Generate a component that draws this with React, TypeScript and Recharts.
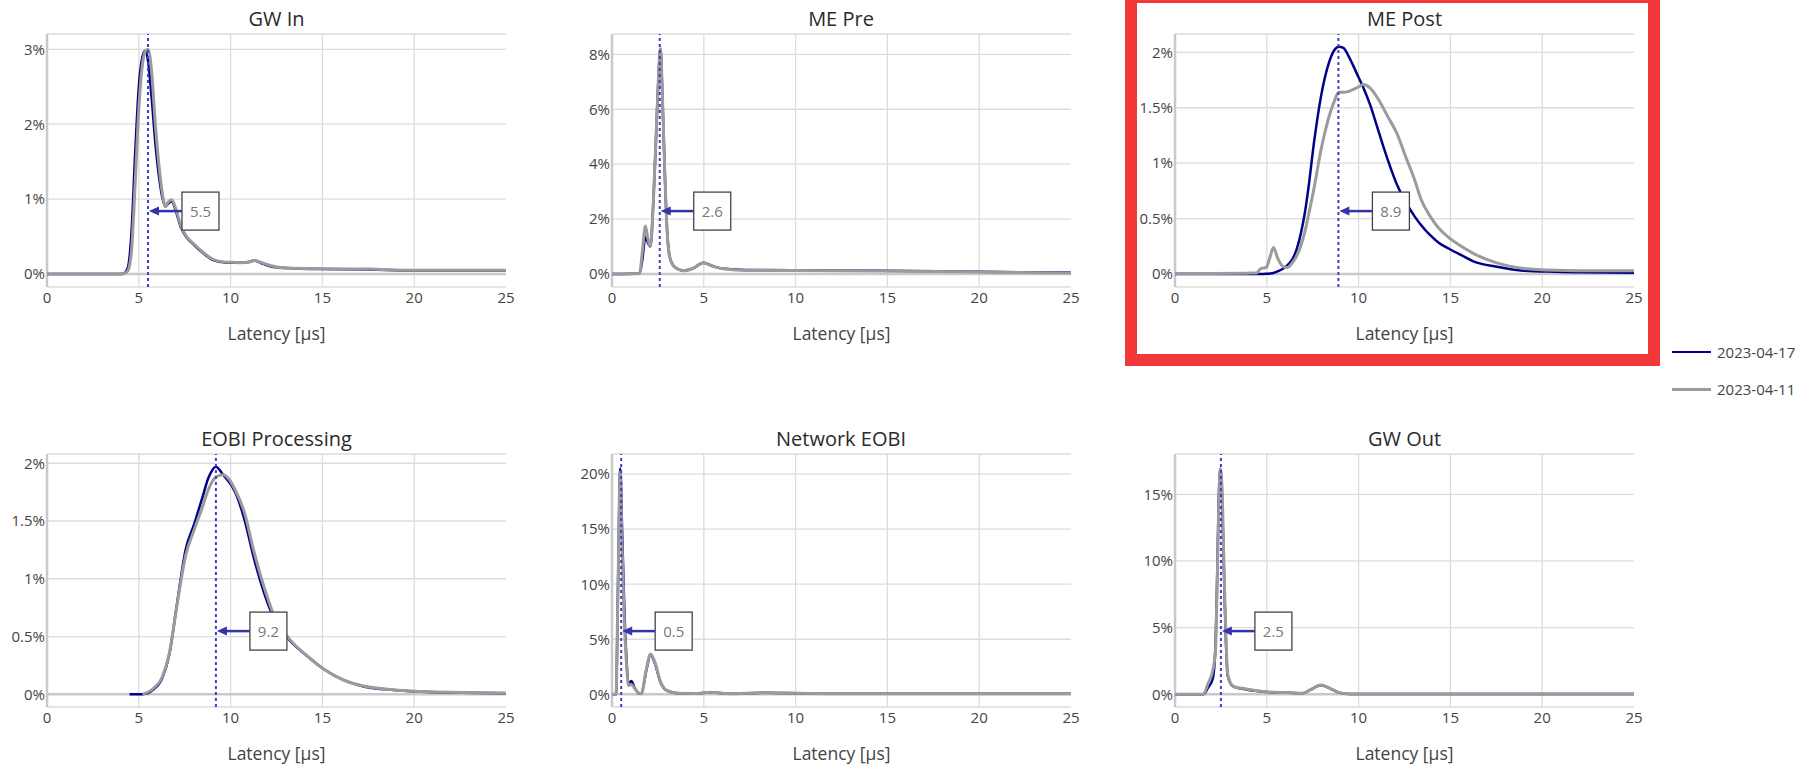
import React from "react";
import {
  LineChart,
  Line,
  XAxis,
  YAxis,
  CartesianGrid,
  ReferenceLine,
} from "recharts";

const latencyTicks = [0, 5, 10, 15, 20, 25];
const seriesNames = ["2023-04-17", "2023-04-11"];

// GW In
const gwInX = [0, 4, 4.2, 4.4, 4.6, 4.8, 5.0, 5.2, 5.35, 5.5, 5.7, 5.9, 6.1, 6.3, 6.45, 6.6, 6.8, 7.0, 7.3, 7.6, 8.0, 8.5, 9.0, 9.5, 10, 10.5, 11, 11.3, 11.7, 12.2, 13, 15, 17.5, 20, 22.5, 25];
const gwInA = [0, 0, 0.01, 0.08, 0.55, 1.6, 2.5, 2.9, 2.98, 2.85, 2.35, 1.75, 1.3, 1.0, 0.9, 0.94, 0.97, 0.85, 0.62, 0.49, 0.39, 0.28, 0.19, 0.16, 0.15, 0.15, 0.16, 0.18, 0.14, 0.1, 0.08, 0.065, 0.06, 0.045, 0.045, 0.045];
const gwInB = [0, 0, 0.005, 0.04, 0.3, 1.2, 2.2, 2.8, 2.97, 3.0, 2.7, 2.0, 1.45, 1.05, 0.9, 0.96, 0.99, 0.88, 0.64, 0.5, 0.4, 0.29, 0.2, 0.165, 0.155, 0.15, 0.16, 0.18, 0.15, 0.11, 0.08, 0.07, 0.065, 0.05, 0.05, 0.05];

// ME Pre
const mePreX = [0, 1.5, 1.65, 1.82, 1.95, 2.09, 2.25, 2.4, 2.52, 2.64, 2.75, 2.88, 3.0, 3.15, 3.35, 3.6, 3.9, 4.4, 4.98, 5.57, 6.15, 7.3, 9.86, 14.7, 20, 25];
const mePreA = [0, 0.02, 0.5, 1.36, 1.15, 1.0, 2.6, 5.0, 7.0, 8.2, 6.4, 3.6, 1.6, 0.6, 0.3, 0.18, 0.12, 0.2, 0.41, 0.27, 0.19, 0.15, 0.14, 0.12, 0.08, 0.05];
const mePreB = [0, 0.02, 0.8, 1.75, 1.3, 1.0, 2.6, 5.0, 7.0, 8.2, 6.4, 3.6, 1.6, 0.6, 0.3, 0.18, 0.12, 0.2, 0.4, 0.26, 0.18, 0.13, 0.13, 0.11, 0.07, 0.04];

// ME Post
const mePostX = [0, 2, 4, 4.44, 4.68, 4.97, 5.17, 5.36, 5.6, 5.9, 6.13, 6.38, 6.62, 6.86, 7.1, 7.23, 7.59, 7.95, 8.32, 8.68, 8.92, 9.17, 9.41, 9.65, 9.9, 10.26, 10.62, 11.1, 11.59, 12.08, 12.56, 13.05, 13.41, 13.9, 14.38, 14.9, 15.59, 16.32, 17.53, 18.99, 20.68, 22, 25];
const mePostA = [0, 0, 0, 0, 0, 0.002, 0.005, 0.01, 0.025, 0.05, 0.08, 0.13, 0.22, 0.37, 0.58, 0.73, 1.21, 1.6, 1.87, 2.02, 2.05, 2.04, 1.98, 1.9, 1.81, 1.68, 1.53, 1.28, 1.03, 0.81, 0.65, 0.52, 0.44, 0.35, 0.28, 0.23, 0.17, 0.11, 0.066, 0.03, 0.02, 0.015, 0.012];
const mePostB = [0.005, 0.005, 0.008, 0.01, 0.05, 0.06, 0.15, 0.24, 0.14, 0.065, 0.06, 0.1, 0.16, 0.26, 0.4, 0.5, 0.79, 1.12, 1.38, 1.56, 1.64, 1.64, 1.645, 1.66, 1.68, 1.71, 1.68, 1.57, 1.42, 1.27, 1.06, 0.85, 0.67, 0.52, 0.41, 0.33, 0.25, 0.18, 0.1, 0.05, 0.033, 0.03, 0.03];

// EOBI Processing
const eobiX = [4.5, 5.2, 5.79, 6.28, 6.67, 7.06, 7.55, 8.03, 8.42, 8.81, 9.2, 9.59, 10.28, 10.76, 11.25, 11.84, 12.42, 13.2, 14.18, 15.15, 16.13, 17.3, 18.86, 20.8, 25];
const eobiA = [0, 0, 0.04, 0.14, 0.35, 0.76, 1.25, 1.48, 1.68, 1.88, 1.97, 1.9, 1.74, 1.51, 1.19, 0.87, 0.64, 0.47, 0.33, 0.21, 0.124, 0.066, 0.038, 0.02, 0.01];
const eobiB = [null, 0, 0.05, 0.15, 0.36, 0.75, 1.2, 1.43, 1.6, 1.78, 1.88, 1.9, 1.76, 1.57, 1.25, 0.92, 0.66, 0.48, 0.33, 0.21, 0.125, 0.07, 0.04, 0.022, 0.012];

// Network EOBI
const netX = [0, 0.22, 0.32, 0.45, 0.55, 0.65, 0.78, 0.9, 1.05, 1.25, 1.45, 1.6, 1.86, 2.1, 2.34, 2.64, 3.0, 3.6, 4.5, 5.37, 6.35, 8.3, 12, 16, 20, 25];
const netA = [0, 0, 9, 20.5, 15, 9, 3.5, 1.0, 1.2, 0.55, 0.1, 0.05, 2.1, 3.6, 2.8, 1.1, 0.33, 0.09, 0.08, 0.18, 0.06, 0.15, 0.05, 0.05, 0.05, 0.05];
const netB = [0, 0, 9, 20.2, 13.5, 7.5, 3, 0.8, 0.9, 0.5, 0.1, 0.05, 2.2, 3.66, 2.9, 1.15, 0.33, 0.09, 0.08, 0.18, 0.06, 0.15, 0.06, 0.06, 0.06, 0.06];

// GW Out
const gwOutX = [0, 1.54, 1.8, 2.06, 2.2, 2.3, 2.38, 2.47, 2.56, 2.66, 2.76, 2.87, 3.18, 3.65, 4.46, 5.02, 6.19, 6.97, 7.36, 7.95, 8.44, 8.93, 9.51, 12, 16, 20, 25];
const gwOutA = [0, 0, 0.5, 1.2, 3.5, 9, 14.5, 16.9, 15, 9.5, 4.5, 1.4, 0.57, 0.42, 0.25, 0.17, 0.12, 0.08, 0.33, 0.68, 0.45, 0.13, 0.03, 0.02, 0.02, 0.02, 0.02];
const gwOutB = [0, 0, 0.8, 1.8, 3.2, 8.5, 14, 16.9, 15.5, 10, 5, 1.5, 0.6, 0.45, 0.27, 0.18, 0.12, 0.08, 0.33, 0.7, 0.45, 0.13, 0.03, 0.02, 0.02, 0.02, 0.02];

const BLUE = "#00008b";
const GREY = "#9b9b9b";
const GRID = "#dcdcdc";
const ZERO = "#c9c9c9";

const colLeft = [47, 611.5, 1175];
const rowTop = [34, 454];
const PLOT_W = 459;
const PLOT_H = 253;
const Y_W = 50;
const M_TOP = 10;
const M_RIGHT = 10;
const X_H = 60;

const toRows = (xs: number[], a: (number | null)[], b: (number | null)[]) =>
  xs.map((x, i) => ({ x, a: a[i], b: b[i] }));

const panels = [
  { title: "GW In", data: toRows(gwInX, gwInA, gwInB), yTicks: [0, 1, 2, 3], yDomain: [-0.174, 3.204], median: 5.5, col: 0, row: 0 },
  { title: "ME Pre", data: toRows(mePreX, mePreA, mePreB), yTicks: [0, 2, 4, 6, 8], yDomain: [-0.473, 8.74], median: 2.6, col: 1, row: 0 },
  { title: "ME Post", data: toRows(mePostX, mePostA, mePostB), yTicks: [0, 0.5, 1, 1.5, 2], yDomain: [-0.117, 2.165], median: 8.9, col: 2, row: 0 },
  { title: "EOBI Processing", data: toRows(eobiX, eobiA, eobiB), yTicks: [0, 0.5, 1, 1.5, 2], yDomain: [-0.11, 2.08], median: 9.2, col: 0, row: 1 },
  { title: "Network EOBI", data: toRows(netX, netA, netB), yTicks: [0, 5, 10, 15, 20], yDomain: [-1.15, 21.82], median: 0.5, col: 1, row: 1 },
  { title: "GW Out", data: toRows(gwOutX, gwOutA, gwOutB), yTicks: [0, 5, 10, 15], yDomain: [-0.95, 18.02], median: 2.5, col: 2, row: 1 },
];

function MedianMarker(props: any) {
  const { viewBox, text } = props;
  if (!viewBox) return null;
  const x = viewBox.x;
  const y = viewBox.y + viewBox.height * 0.7;
  return (
    <g>
      <line x1={x + 10} y1={y} x2={x + 34} y2={y} stroke="#3434a8" strokeWidth={2.5} />
      <path d={`M${x + 1},${y} L${x + 11},${y - 4.5} L${x + 11},${y + 4.5} Z`} fill="#3434a8" />
      <rect x={x + 34} y={y - 19} width={37} height={38} fill="#fff" stroke="#444" strokeWidth={1.3} />
      <text x={x + 52.5} y={y} textAnchor="middle" dominantBaseline="central" fontSize={15} fill="#777">
        {text}
      </text>
    </g>
  );
}

function Panel({ p }: { p: (typeof panels)[number] }) {
  const left = colLeft[p.col];
  const top = rowTop[p.row];
  return (
    <>
      <div
        style={{
          position: "absolute",
          left,
          width: PLOT_W,
          top: top - 27,
          lineHeight: "24px",
          textAlign: "center",
          fontSize: 20,
          color: "#2a2a2a",
        }}
      >
        {p.title}
      </div>
      <div style={{ position: "absolute", left: left - Y_W, top: top - M_TOP }}>
        <LineChart
          width={Y_W + PLOT_W + M_RIGHT}
          height={M_TOP + PLOT_H + X_H}
          data={p.data}
          margin={{ top: M_TOP, right: M_RIGHT, bottom: 0, left: 0 }}
        >
          <CartesianGrid vertical={false} stroke={GRID} strokeWidth={1.3} />
          <XAxis
            type="number"
            dataKey="x"
            domain={[0, 25]}
            ticks={latencyTicks}
            interval={0}
            allowDataOverflow
            axisLine={false}
            tickLine={false}
            tickSize={0}
            tickMargin={5}
            height={X_H}
            tick={{ fontSize: 15, fill: "#444" }}
            label={{ value: "Latency [µs]", position: "insideBottom", offset: 7.5, fontSize: 17.5, fill: "#444" }}
          />
          <YAxis
            type="number"
            domain={p.yDomain}
            ticks={p.yTicks}
            interval={0}
            allowDataOverflow
            axisLine={false}
            tickLine={false}
            tickSize={0}
            tickMargin={2}
            width={Y_W}
            tick={{ fontSize: 15, fill: "#444" }}
            tickFormatter={(v: number) => `${v}%`}
          />
          {[5, 10, 15, 20].map((g) => (
            <ReferenceLine key={g} x={g} stroke={GRID} strokeWidth={1.3} />
          ))}
          <ReferenceLine y={0} stroke={ZERO} strokeWidth={2.5} />
          <ReferenceLine x={0} stroke={ZERO} strokeWidth={2.5} />
          <Line
            type="monotone"
            dataKey="a"
            name={seriesNames[0]}
            stroke={BLUE}
            strokeWidth={2.5}
            dot={false}
            isAnimationActive={false}
          />
          <Line
            type="monotone"
            dataKey="b"
            name={seriesNames[1]}
            stroke={GREY}
            strokeWidth={3}
            dot={false}
            isAnimationActive={false}
          />
          <ReferenceLine
            x={p.median}
            stroke="#3f3fc4"
            strokeWidth={2}
            strokeDasharray="3 3"
            label={<MedianMarker text={String(p.median)} />}
          />
        </LineChart>
      </div>
    </>
  );
}

export default function App() {
  return (
    <div
      style={{
        position: "absolute",
        left: 0,
        top: 0,
        width: 1806,
        height: 767,
        overflow: "hidden",
        background: "#fff",
        fontFamily: "'Open Sans', sans-serif",
      }}
    >
      {panels.map((p) => (
        <Panel key={p.title} p={p} />
      ))}
      <div
        style={{
          position: "absolute",
          left: 1124.5,
          top: -9,
          width: 535.5,
          height: 375,
          border: "12px solid #f23838",
          boxSizing: "border-box",
        }}
      />
      {seriesNames.map((name, i) => (
        <div
          key={name}
          style={{
            position: "absolute",
            left: 1672,
            top: 352 + i * 37 - 11,
            height: 22,
            display: "flex",
            alignItems: "center",
            fontSize: 15,
            color: "#444",
          }}
        >
          <span
            style={{
              display: "inline-block",
              width: 39,
              height: i === 0 ? 2.5 : 3,
              background: i === 0 ? BLUE : GREY,
              marginRight: 6,
            }}
          />
          {name}
        </div>
      ))}
    </div>
  );
}
